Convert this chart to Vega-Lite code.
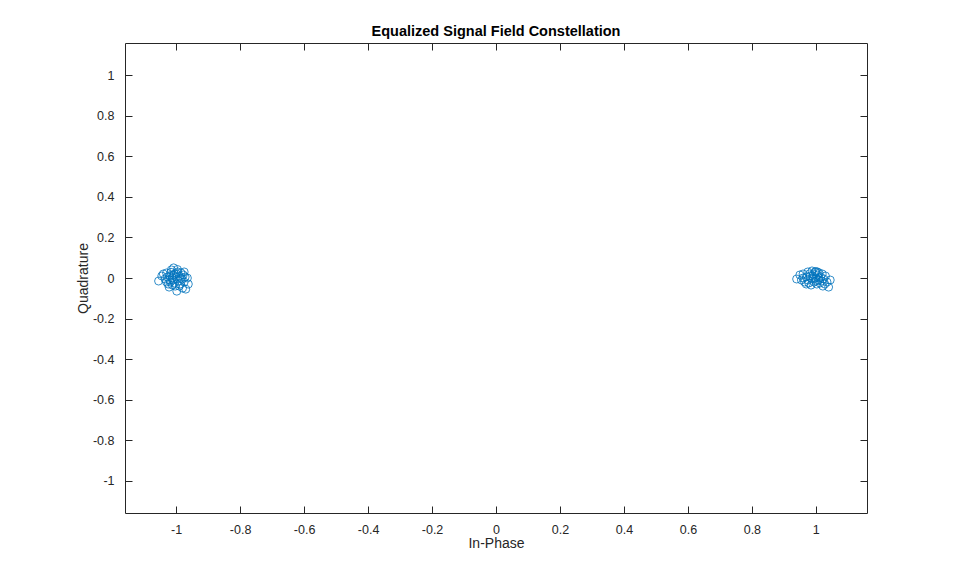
{
  "$schema": "https://vega.github.io/schema/vega-lite/v6.json",
  "width": 742,
  "height": 470,
  "autosize": {"type": "none"},
  "padding": {"left": 125, "top": 43, "right": 92, "bottom": 64},
  "background": "white",
  "title": {
    "text": "Equalized Signal Field Constellation",
    "font": "Liberation Sans",
    "fontSize": 14.5,
    "fontWeight": "bold",
    "color": "#000000",
    "offset": 3,
    "anchor": "middle"
  },
  "config": {
    "view": {"stroke": null},
    "axis": {
      "grid": false,
      "domainColor": "#262626",
      "domainWidth": 1,
      "tickColor": "#262626",
      "tickWidth": 1,
      "tickSize": -7,
      "labelFont": "Liberation Sans",
      "labelFontSize": 12.5,
      "labelColor": "#262626",
      "labelExpr": "'' + datum.value",
      "titleFont": "Liberation Sans",
      "titleFontSize": 14,
      "titleFontWeight": "normal",
      "titleColor": "#262626"
    }
  },
  "resolve": {"axis": {"x": "independent", "y": "independent"}},
  "data": {
    "values": [
      {"i": -1.055, "q": -0.015}, {"i": -1.04, "q": 0.02}, {"i": -1.035, "q": -0.005}, {"i": -1.03, "q": 0.025},
      {"i": -1.025, "q": -0.03}, {"i": -1.02, "q": 0.01}, {"i": -1.018, "q": -0.02}, {"i": -1.015, "q": 0.04},
      {"i": -1.012, "q": 0.0}, {"i": -1.01, "q": -0.01}, {"i": -1.008, "q": 0.05}, {"i": -1.005, "q": 0.02},
      {"i": -1.003, "q": -0.04}, {"i": -1.0, "q": 0.005}, {"i": -0.998, "q": -0.065}, {"i": -0.995, "q": 0.03},
      {"i": -0.993, "q": -0.015}, {"i": -0.99, "q": 0.01}, {"i": -0.988, "q": -0.03}, {"i": -0.985, "q": 0.025},
      {"i": -0.982, "q": -0.005}, {"i": -0.98, "q": -0.05}, {"i": -0.978, "q": 0.015}, {"i": -0.975, "q": -0.02},
      {"i": -0.972, "q": 0.005}, {"i": -0.97, "q": -0.055}, {"i": -0.965, "q": 0.0}, {"i": -0.962, "q": -0.03},
      {"i": -1.028, "q": 0.005}, {"i": -1.022, "q": -0.045}, {"i": -1.016, "q": 0.028}, {"i": -1.006, "q": -0.025},
      {"i": -0.996, "q": 0.042}, {"i": -1.012, "q": -0.035}, {"i": -1.0, "q": 0.022}, {"i": -1.02, "q": -0.01},
      {"i": -0.99, "q": -0.04}, {"i": -1.01, "q": 0.015}, {"i": -0.985, "q": 0.0}, {"i": -1.03, "q": -0.02},
      {"i": -1.045, "q": 0.01}, {"i": -0.975, "q": 0.03},
      {"i": 0.94, "q": -0.005}, {"i": 0.95, "q": 0.015}, {"i": 0.955, "q": -0.01}, {"i": 0.96, "q": 0.02},
      {"i": 0.965, "q": -0.02}, {"i": 0.97, "q": 0.005}, {"i": 0.975, "q": 0.03}, {"i": 0.978, "q": -0.025},
      {"i": 0.982, "q": 0.01}, {"i": 0.985, "q": -0.035}, {"i": 0.988, "q": 0.035}, {"i": 0.99, "q": -0.005},
      {"i": 0.993, "q": 0.02}, {"i": 0.995, "q": -0.02}, {"i": 0.998, "q": 0.03}, {"i": 1.0, "q": 0.0},
      {"i": 1.003, "q": -0.03}, {"i": 1.005, "q": 0.015}, {"i": 1.008, "q": -0.01}, {"i": 1.01, "q": 0.025},
      {"i": 1.013, "q": -0.025}, {"i": 1.015, "q": 0.005}, {"i": 1.018, "q": -0.015}, {"i": 1.02, "q": 0.02},
      {"i": 1.025, "q": -0.005}, {"i": 1.028, "q": -0.03}, {"i": 1.03, "q": 0.01}, {"i": 1.035, "q": -0.02},
      {"i": 1.04, "q": -0.045}, {"i": 1.045, "q": -0.01}, {"i": 0.97, "q": -0.03}, {"i": 0.98, "q": 0.02},
      {"i": 1.0, "q": 0.032}, {"i": 1.0, "q": -0.015}, {"i": 0.99, "q": 0.01}, {"i": 1.01, "q": 0.0},
      {"i": 0.96, "q": 0.0}, {"i": 1.022, "q": -0.04}, {"i": 0.975, "q": -0.01}, {"i": 1.005, "q": 0.03}
    ]
  },
  "layer": [
    {
      "mark": {"type": "point", "shape": "circle", "filled": false, "color": "#0072BD", "size": 64, "strokeWidth": 0.8, "opacity": 1},
      "encoding": {
        "x": {
          "field": "i", "type": "quantitative",
          "scale": {"domain": [-1.16, 1.16], "nice": false, "zero": false},
          "axis": {"orient": "bottom", "title": "In-Phase", "values": [-1, -0.8, -0.6, -0.4, -0.2, 0, 0.2, 0.4, 0.6, 0.8, 1], "labelPadding": 17, "titlePadding": 1}
        },
        "y": {
          "field": "q", "type": "quantitative",
          "scale": {"domain": [-1.16, 1.16], "nice": false, "zero": false},
          "axis": {"orient": "left", "title": "Quadrature", "values": [-1, -0.8, -0.6, -0.4, -0.2, 0, 0.2, 0.4, 0.6, 0.8, 1], "labelPadding": 18, "titlePadding": 2}
        }
      }
    },
    {
      "mark": {"type": "point", "opacity": 0},
      "encoding": {
        "x": {
          "field": "i", "type": "quantitative",
          "scale": {"domain": [-1.16, 1.16], "nice": false, "zero": false},
          "axis": {"orient": "top", "title": null, "labels": false, "values": [-1, -0.8, -0.6, -0.4, -0.2, 0, 0.2, 0.4, 0.6, 0.8, 1]}
        },
        "y": {
          "field": "q", "type": "quantitative",
          "scale": {"domain": [-1.16, 1.16], "nice": false, "zero": false},
          "axis": {"orient": "right", "title": null, "labels": false, "values": [-1, -0.8, -0.6, -0.4, -0.2, 0, 0.2, 0.4, 0.6, 0.8, 1]}
        }
      }
    }
  ]
}
